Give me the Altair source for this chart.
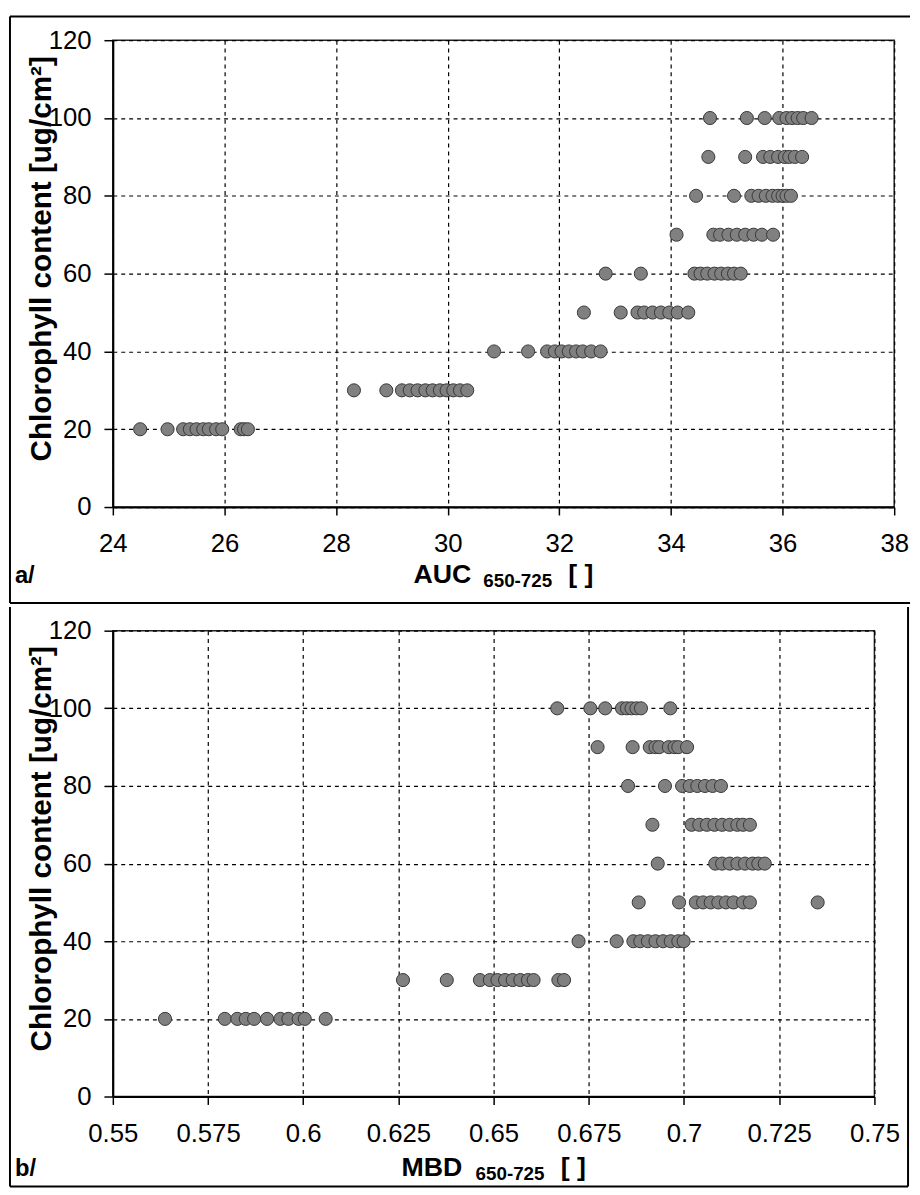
import altair as alt
import pandas as pd

FONT = "Liberation Sans"

levels = [20, 30, 40, 50, 60, 70, 80, 90, 100]

# Panel a/ : AUC 650-725
auc_20 = [24.49, 24.98, 25.26, 25.38, 25.5, 25.62, 25.72, 25.85, 25.96, 26.29, 26.35, 26.42]
auc_30 = [28.32, 28.90, 29.18, 29.32, 29.46, 29.6, 29.73, 29.86, 29.98, 30.1, 30.22, 30.35]
auc_40 = [30.83, 31.44, 31.78, 31.92, 32.04, 32.17, 32.3, 32.42, 32.57, 32.74]
auc_50 = [32.44, 33.10, 33.40, 33.52, 33.67, 33.82, 33.97, 34.12, 34.31]
auc_60 = [32.83, 33.46, 34.42, 34.53, 34.65, 34.78, 34.9, 35.02, 35.13, 35.25]
auc_70 = [34.10, 34.76, 34.88, 35.03, 35.18, 35.33, 35.48, 35.63, 35.83]
auc_80 = [34.45, 35.13, 35.44, 35.57, 35.7, 35.82, 35.92, 36.0, 36.07, 36.15]
auc_90 = [34.67, 35.33, 35.65, 35.78, 35.92, 36.04, 36.12, 36.22, 36.35]
auc_100 = [34.70, 35.36, 35.68, 35.94, 36.07, 36.17, 36.27, 36.37, 36.52]

# Panel b/ : MBD 650-725
mbd_20 = [0.5637, 0.5794, 0.5827, 0.5849, 0.5871, 0.5905, 0.594, 0.5961, 0.5988, 0.6004, 0.6059]
mbd_30 = [0.6262, 0.6377, 0.6464, 0.649, 0.651, 0.653, 0.655, 0.657, 0.659, 0.6605, 0.667, 0.6685]
mbd_40 = [0.6723, 0.6823, 0.6867, 0.6885, 0.6905, 0.6925, 0.6945, 0.6965, 0.6985, 0.6999]
mbd_50 = [0.6881, 0.6987, 0.7031, 0.705, 0.707, 0.709, 0.711, 0.713, 0.7155, 0.7173, 0.7351]
mbd_60 = [0.6931, 0.7082, 0.71, 0.712, 0.714, 0.716, 0.718, 0.7195, 0.7212]
mbd_70 = [0.6917, 0.702, 0.704, 0.706, 0.708, 0.71, 0.712, 0.714, 0.7155, 0.7173]
mbd_80 = [0.6853, 0.695, 0.6995, 0.7015, 0.7035, 0.7055, 0.7075, 0.7097]
mbd_90 = [0.6773, 0.6865, 0.691, 0.6925, 0.6935, 0.696, 0.6975, 0.6985, 0.7008]
mbd_100 = [0.6667, 0.6754, 0.6793, 0.6837, 0.685, 0.6862, 0.6875, 0.6887, 0.6964]

auc_ticks = [24, 26, 28, 30, 32, 34, 36, 38]
mbd_ticks = [0.55, 0.575, 0.6, 0.625, 0.65, 0.675, 0.7, 0.725, 0.75]
y_ticks = [0, 20, 40, 60, 80, 100, 120]

y_title = "Chlorophyll content [ug/cm\u00b2]"


def to_long(rows):
    recs = []
    for lev, vals in zip(levels, rows):
        for v in vals:
            recs.append({"x": v, "y": lev})
    return pd.DataFrame(recs)


auc_df = to_long([auc_20, auc_30, auc_40, auc_50, auc_60, auc_70, auc_80, auc_90, auc_100])
mbd_df = to_long([mbd_20, mbd_30, mbd_40, mbd_50, mbd_60, mbd_70, mbd_80, mbd_90, mbd_100])

one = pd.DataFrame({"k": [0]})


def text(t, x, y, size, weight="bold", align="left", angle=0, baseline="alphabetic"):
    return alt.Chart(pd.DataFrame({"t": [t]})).mark_text(
        align=align, baseline=baseline, font=FONT, fontSize=size,
        fontWeight=weight, color="black", angle=angle
    ).encode(text="t:N", x=alt.value(x), y=alt.value(y))


def rule(x1, x2, y1, y2):
    return alt.Chart(one).mark_rule(color="black", strokeWidth=2).encode(
        x=alt.value(x1), x2=alt.value(x2), y=alt.value(y1), y2=alt.value(y2)
    )


def panel(df, xdom, xticks, W, H, main, main_w, letter, borders, title_dy):
    common = dict(
        grid=True, gridColor="black", gridDash=[4, 4], gridWidth=1.2,
        domainColor="black", domainWidth=2, tickColor="black", tickWidth=1.5,
        labelFont=FONT, labelFontSize=26, labelColor="black", labelOverlap=False,
        labelFlush=False, title=None,
    )
    x_enc = alt.X(
        "x:Q",
        scale=alt.Scale(domain=xdom, nice=False, zero=False),
        axis=alt.Axis(values=xticks, format=".3~f", tickSize=8, labelPadding=16, **common),
    )
    y_enc = alt.Y(
        "y:Q",
        scale=alt.Scale(domain=[0, 120], nice=False, zero=False),
        axis=alt.Axis(values=y_ticks, tickSize=9, labelPadding=13, **common),
    )
    pts = alt.Chart(df).mark_circle(
        size=175, color="#808080", stroke="#383838", strokeWidth=1, opacity=1
    ).encode(x=x_enc, y=y_enc)

    sub_w = 75
    total = main_w + 12 + sub_w + 11 + 25.5
    start = W / 2 - total / 2
    layers = [pts]
    layers.append(text(main, start, H + title_dy, 27))
    layers.append(text("650-725", start + main_w + 12, H + title_dy + 4, 19))
    layers.append(text("[ ]", start + main_w + 12 + sub_w + 11, H + title_dy, 27))
    layers.append(text(letter, -99, H + title_dy, 24))
    layers.append(text(y_title, -72, H / 2 - 15, 30, angle=270, align="center", baseline="middle"))
    for b in borders:
        layers.append(rule(*b))
    return alt.layer(*layers).properties(width=W, height=H)


W1, H1 = 790, 472
W2, H2 = 770, 471

top = panel(
    auc_df, [24, 38], auc_ticks, W1, H1, "AUC", 58.5, "a/",
    [(-104, 806, -24, -24), (-104, -104, -24, 569), (-104, 806, 569, 569)], 77,
)
bottom = panel(
    mbd_df, [0.55, 0.75], mbd_ticks, W2, H2, "MBD", 63, "b/",
    [(-104, -104, -24, 562), (-104, 804, 562, 562), (804, 804, -24, 562)], 80,
)

chart = alt.vconcat(top, bottom, spacing=0).properties(
    padding=0, background="white"
).configure_view(stroke="#222", strokeWidth=1.5)

chart.save("out.html", embed_options={"renderer": "svg", "actions": False})
